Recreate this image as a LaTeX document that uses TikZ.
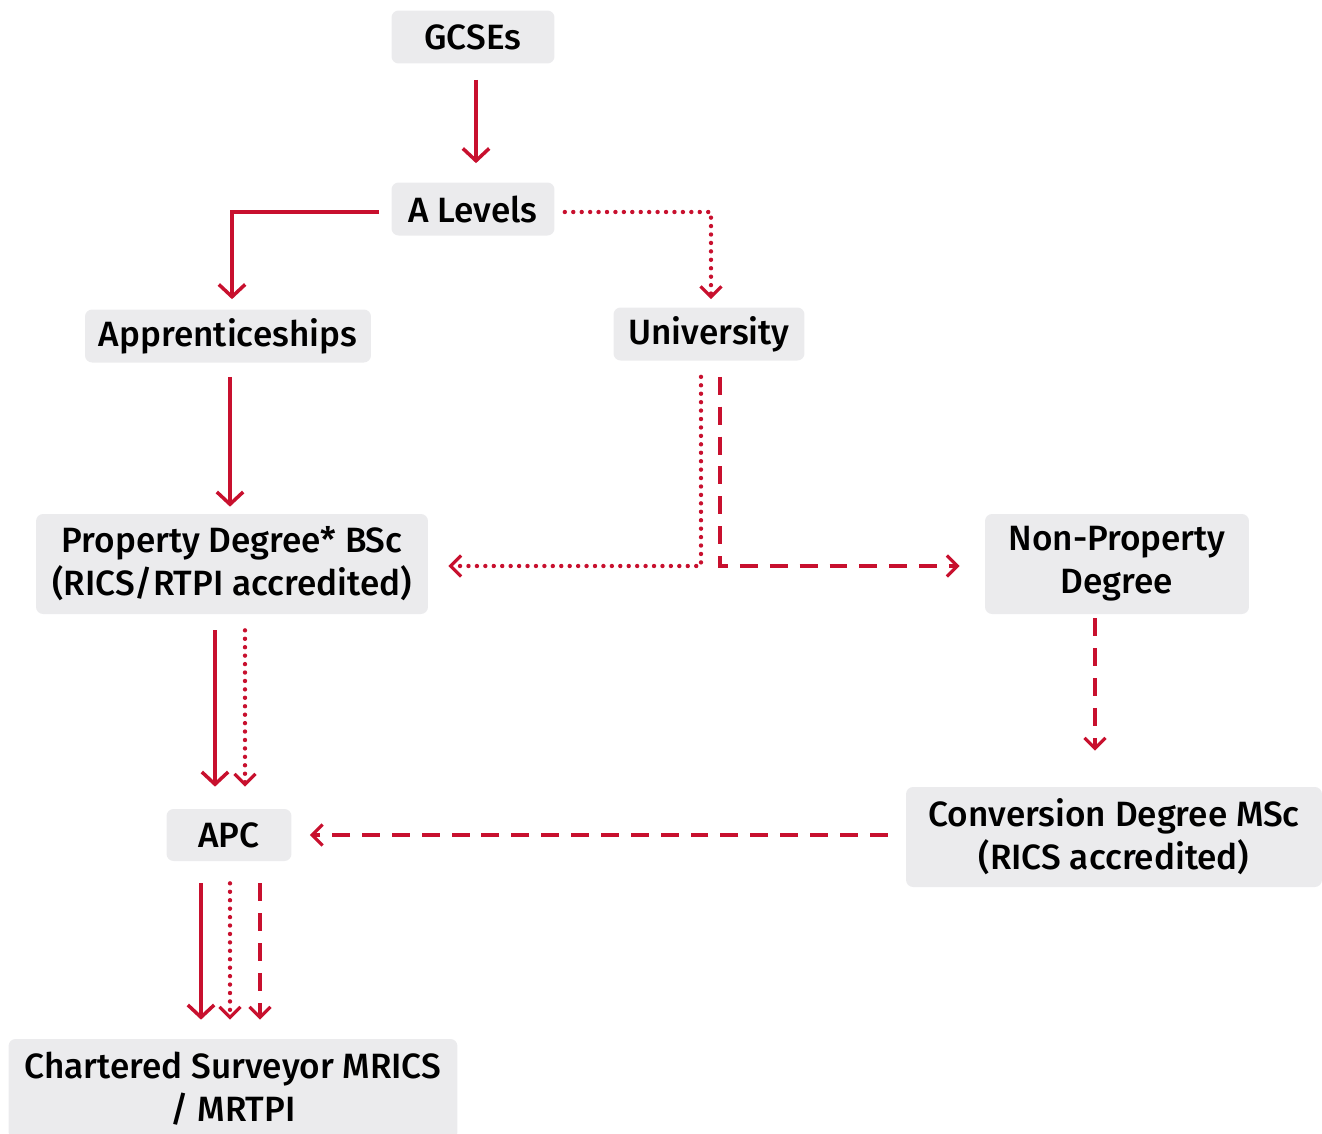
\documentclass[tikz,border=0pt]{standalone}
\usepackage{fontspec}
\setmainfont{Fira Sans}[UprightFont=* Medium]
\usepackage{tikz}
\usetikzlibrary{arrows.meta}
\usetikzlibrary{calc}

\definecolor{routered}{HTML}{C8102E}
\definecolor{boxgrey}{HTML}{EBEBED}

\tikzset{
  stage/.style={fill=boxgrey,rounded corners=4pt,align=center,inner sep=0pt,
    font=\fontsize{20}{24.5}\selectfont},
  solidpath/.style={draw=routered,line width=2pt,
    -{Straight Barb[length=7pt,width=15pt,line width=2pt]}},
  dotpath/.style={draw=routered,line width=2.5pt,line cap=round,
    dash pattern=on 0pt off 4.8pt,
    -{Straight Barb[length=6pt,width=12pt,line width=1.8pt]}},
  dashpath/.style={draw=routered,line width=1.9pt,
    dash pattern=on 10.2pt off 6.8pt,
    -{Straight Barb[length=6pt,width=12pt,line width=1.8pt]}},
}

\begin{document}
\begin{tikzpicture}[x=0.02cm,y=-0.02cm]
\useasboundingbox (0,0) rectangle (1322,1133);

%boxes
\node[stage,minimum width=3.26cm,minimum height=1.06cm] (gcse) at (473,37) {GCSEs};
\node[stage,minimum width=3.26cm,minimum height=1.06cm] (alev) at (473,209) {A Levels};
\node[stage,minimum width=5.72cm,minimum height=1.06cm] (appr) at (228,336) {Apprenticeships};
\node[stage,minimum width=3.82cm,minimum height=1.06cm] (uni) at (709,334) {University};
\node[stage,minimum width=7.84cm,minimum height=2cm] (prop) at (232,564) {Property Degree* BSc\\(RICS/RTPI accredited)};
\node[stage,minimum width=5.28cm,minimum height=2cm] (nonprop) at (1117,564) {Non-Property\\Degree};
\node[stage,minimum width=2.5cm,minimum height=1.04cm] (apc) at (229,835) {APC};
\node[stage,minimum width=8.32cm,minimum height=2cm] (conv) at (1114,837) {Conversion Degree MSc\\(RICS accredited)};
\node[stage,minimum width=8.98cm,minimum height=2cm] (chart) at (233,1089) {Chartered Surveyor MRICS\\/ MRTPI};

%routes
\draw[solidpath] ($(gcse.south)+(3,16)$) -- ($(alev.north)+(3,-19)$);
\draw[solidpath] ($(alev.west)+(-12,3)$) -| ($(appr.north)+(4,-10)$);
\draw[dotpath] ($(alev.east)+(10,3)$) -| ($(uni.north)+(2,-8)$);
\draw[solidpath] ($(appr.south)+(2,14)$) -- ($(prop.north)+(-2,-7)$);
\draw[dotpath] ($(uni.south)+(-8,16)$) |- ($(prop.east)+(20,2)$);
\draw[dashpath] ($(uni.south)+(11,16)$) |- ($(nonprop.west)+(-25,2)$);
\draw[solidpath] ($(prop.south)+(-17,16)$) -- ($(apc.north)+(-14,-22)$);
\draw[dotpath] ($(prop.south)+(13,16)$) -- ($(apc.north)+(16,-22)$);
\draw[dashpath] ($(nonprop.south)+(-22,4)$) -- ($(conv.north)+(-19,-36)$);
\draw[dashpath] ($(conv.west)+(-18,-2)$) -- ($(apc.east)+(18,0)$);
\draw[solidpath] ($(apc.south)+(-28,22)$) -- ($(chart.north)+(-32,-19)$);
\draw[dotpath] ($(apc.south)+(1,22)$) -- ($(chart.north)+(-3,-19)$);
\draw[dashpath] ($(apc.south)+(31,22)$) -- ($(chart.north)+(27,-19)$);
\end{tikzpicture}
\end{document}
